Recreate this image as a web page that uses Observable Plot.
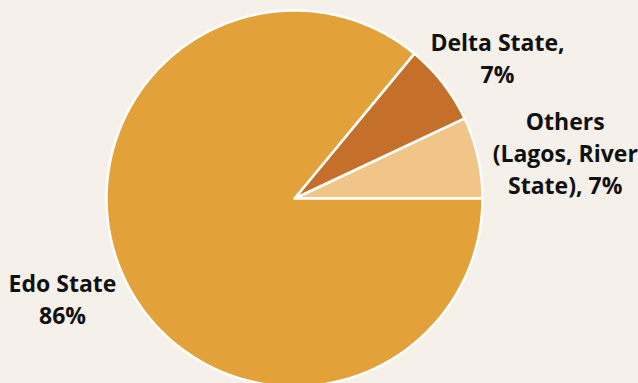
<!DOCTYPE html>
<html><head><meta charset="utf-8">
<script src="https://cdn.jsdelivr.net/npm/d3@7"></script>
<script src="https://cdn.jsdelivr.net/npm/@observablehq/plot@0.6"></script>
<style>
html,body{margin:0;padding:0;background:#f5f0e9;}
#chart svg{display:block;}
</style>
</head><body><div id="chart"></div>
<script>
const categories = ["Others (Lagos, River State)", "Delta State", "Edo State"];
const shares = [7, 7, 86];
const labels = ["Others\n(Lagos, River\nState), 7%", "Delta State,\n7%", "Edo State\n86%"];
const colors = ["#f1c487", "#c4702b", "#e2a239"];

const W = 638, H = 383, R = 188, CX = 294, CY = 198;
// pie layout from data (counterclockwise from 3 o'clock)
const arcs = d3.pie().sort(null).value(d => d).startAngle(Math.PI / 2).endAngle(Math.PI / 2 - 2 * Math.PI)(shares);
const pts = [];
arcs.forEach((a, i) => {
  const n = Math.max(4, Math.ceil(Math.abs(a.endAngle - a.startAngle) * 60));
  pts.push({cat: categories[i], x: 0, y: 0});
  for (let k = 0; k <= n; k++) {
    const t = a.startAngle + (a.endAngle - a.startAngle) * k / n;
    pts.push({cat: categories[i], x: Math.sin(t), y: Math.cos(t)});
  }
  pts.push({cat: categories[i], x: 0, y: 0});
});
// label placement (layout, in pie-radius units)
const labelPos = [[1.44, 0.25], [1.08, 0.755], [-1.234, -0.53]];
const textData = labels.map((l, i) => ({label: l, x: labelPos[i][0], y: labelPos[i][1]}));

const plot = Plot.plot({
  width: W, height: H, margin: 0,
  style: {background: "#f5f0e9", fontFamily: "'Open Sans', sans-serif"},
  x: {domain: [-CX / R, (W - CX) / R], range: [0, W], axis: null},
  y: {domain: [-(H - CY) / R, CY / R], range: [H, 0], axis: null},
  color: {domain: categories, range: colors},
  marks: [
    Plot.line(pts, {x: "x", y: "y", z: "cat", fill: "cat", stroke: "white", strokeWidth: 2.5, strokeLinejoin: "round", curve: "linear"}),
    Plot.text(textData, {x: "x", y: "y", text: "label", fontSize: 23, fontWeight: "bold", fill: "#111", lineHeight: 1.39, textAnchor: "middle"})
  ]
});
document.getElementById("chart").appendChild(plot);
</script></body></html>
